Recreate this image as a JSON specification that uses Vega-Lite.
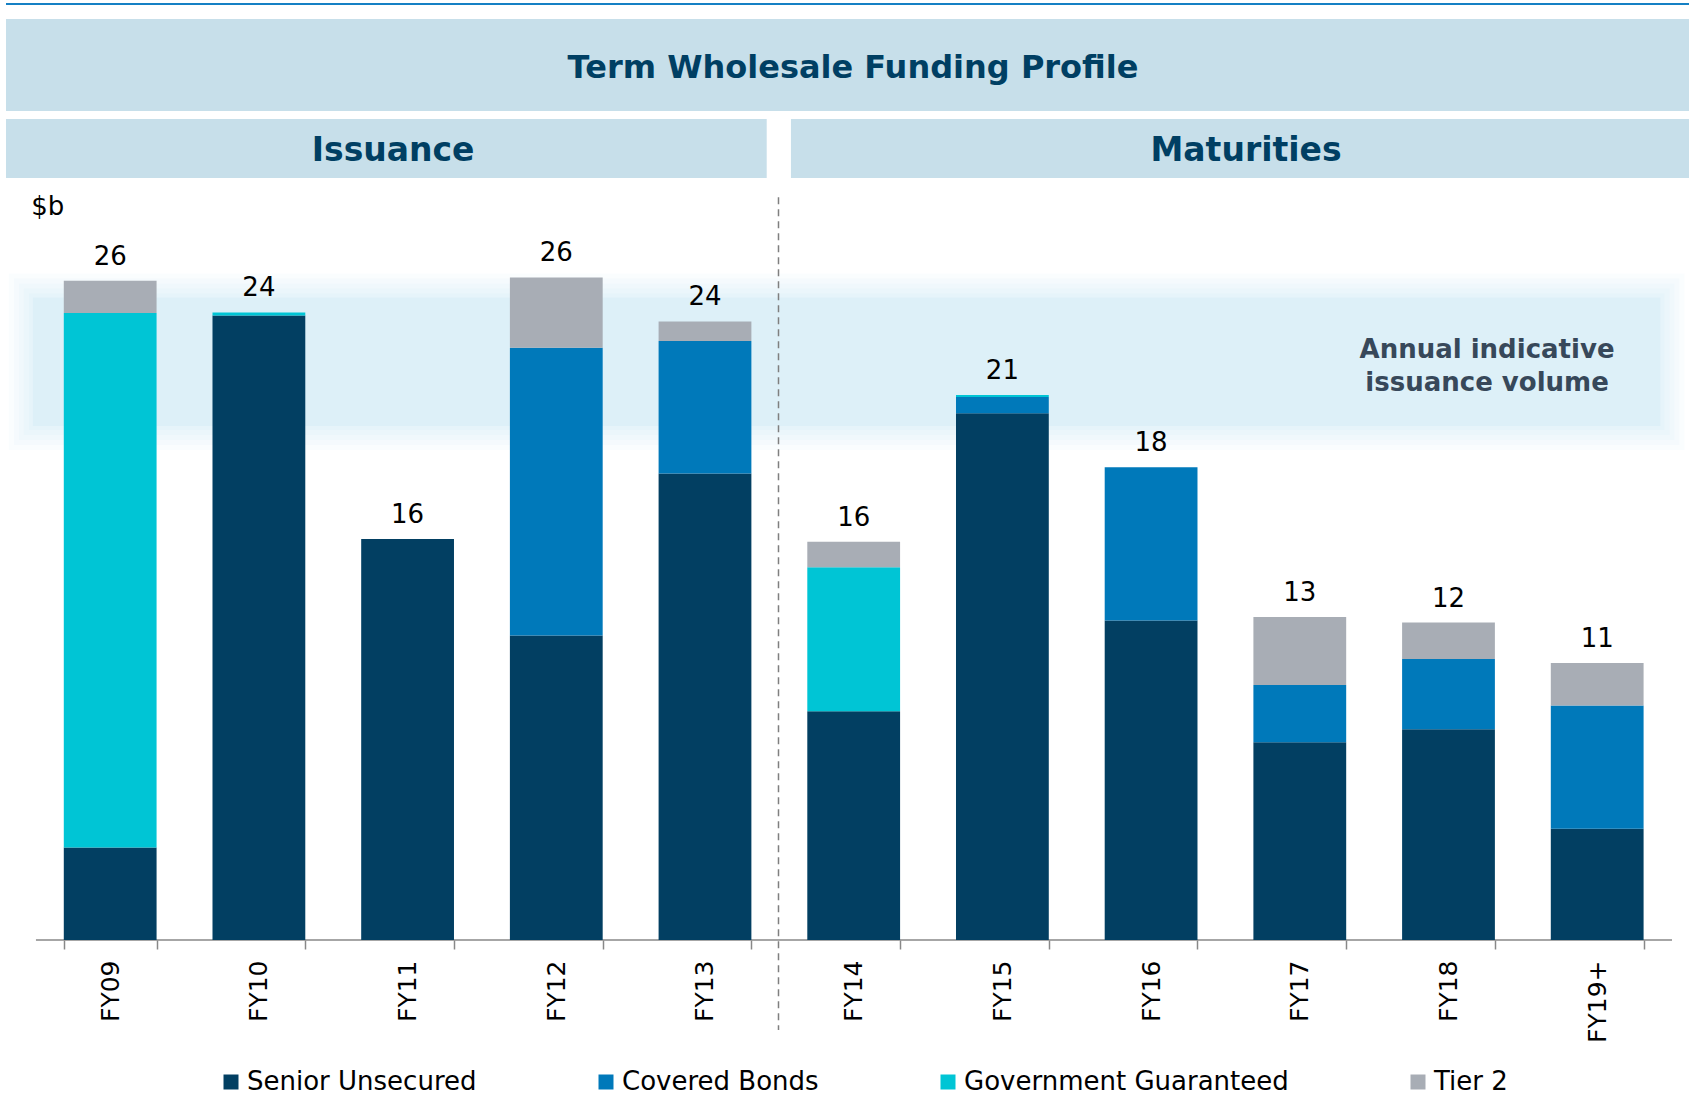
{
  "$schema": "https://vega.github.io/schema/vega-lite/v6.json",
  "width": 1683,
  "height": 937,
  "autosize": {"type": "none"},
  "padding": {"left": 6, "top": 3, "right": 3, "bottom": 157},
  "background": "#ffffff",
  "config": {"font": "DejaVu Sans", "view": {"stroke": null}},
  "datasets": {
    "segments": [
      {"year": "FY09", "series": "Senior Unsecured", "value": 3.6},
      {"year": "FY09", "series": "Government Guaranteed", "value": 20.8},
      {"year": "FY09", "series": "Tier 2", "value": 1.25},
      {"year": "FY10", "series": "Senior Unsecured", "value": 24.3},
      {"year": "FY10", "series": "Government Guaranteed", "value": 0.12},
      {"year": "FY11", "series": "Senior Unsecured", "value": 15.6},
      {"year": "FY12", "series": "Senior Unsecured", "value": 11.85},
      {"year": "FY12", "series": "Covered Bonds", "value": 11.2},
      {"year": "FY12", "series": "Tier 2", "value": 2.73},
      {"year": "FY13", "series": "Senior Unsecured", "value": 18.15},
      {"year": "FY13", "series": "Covered Bonds", "value": 5.16},
      {"year": "FY13", "series": "Tier 2", "value": 0.76},
      {"year": "FY14", "series": "Senior Unsecured", "value": 8.9},
      {"year": "FY14", "series": "Government Guaranteed", "value": 5.6},
      {"year": "FY14", "series": "Tier 2", "value": 1.0},
      {"year": "FY15", "series": "Senior Unsecured", "value": 20.5},
      {"year": "FY15", "series": "Covered Bonds", "value": 0.63},
      {"year": "FY15", "series": "Government Guaranteed", "value": 0.08},
      {"year": "FY16", "series": "Senior Unsecured", "value": 12.43},
      {"year": "FY16", "series": "Covered Bonds", "value": 5.97},
      {"year": "FY17", "series": "Senior Unsecured", "value": 7.69},
      {"year": "FY17", "series": "Covered Bonds", "value": 2.23},
      {"year": "FY17", "series": "Tier 2", "value": 2.65},
      {"year": "FY18", "series": "Senior Unsecured", "value": 8.2},
      {"year": "FY18", "series": "Covered Bonds", "value": 2.73},
      {"year": "FY18", "series": "Tier 2", "value": 1.42},
      {"year": "FY19+", "series": "Senior Unsecured", "value": 4.33},
      {"year": "FY19+", "series": "Covered Bonds", "value": 4.79},
      {"year": "FY19+", "series": "Tier 2", "value": 1.66}
    ],
    "series": [
      {"series": "Senior Unsecured", "rank": 1},
      {"series": "Covered Bonds", "rank": 2},
      {"series": "Government Guaranteed", "rank": 3},
      {"series": "Tier 2", "rank": 4}
    ],
    "band": [{"low": 20, "high": 25, "note": "Annual indicative issuance volume"}],
    "one": [{}]
  },
  "resolve": {"scale": {"x": "independent"}},
  "layer": [
    {
      "layer": [
        {
          "data": {"name": "one"},
          "mark": {"type": "rule", "stroke": "#1580c4", "strokeWidth": 2},
          "encoding": {
            "x": {"datum": 0, "type": "quantitative", "scale": {"domain": [0, 100], "nice": false, "zero": false}, "axis": null},
            "x2": {"datum": 100},
            "y": {"datum": 36.42, "type": "quantitative", "scale": {"domain": [0, 36.46], "nice": false}, "axis": null}
          }
        },
        {
          "data": {"name": "one"},
          "mark": {"type": "rect", "color": "#c7dfea"},
          "encoding": {
            "x": {"datum": 0, "type": "quantitative", "axis": null},
            "x2": {"datum": 100},
            "y": {"datum": 32.26, "type": "quantitative", "axis": null},
            "y2": {"datum": 35.84}
          }
        },
        {
          "data": {"name": "one"},
          "mark": {"type": "rect", "color": "#c7dfea"},
          "encoding": {
            "x": {"datum": 0, "type": "quantitative", "axis": null},
            "x2": {"datum": 45.2},
            "y": {"datum": 29.65, "type": "quantitative", "axis": null},
            "y2": {"datum": 31.95}
          }
        },
        {
          "data": {"name": "one"},
          "mark": {"type": "rect", "color": "#c7dfea"},
          "encoding": {
            "x": {"datum": 46.64, "type": "quantitative", "axis": null},
            "x2": {"datum": 100},
            "y": {"datum": 29.65, "type": "quantitative", "axis": null},
            "y2": {"datum": 31.95}
          }
        },
        {
          "data": {"name": "one"},
          "mark": {"type": "text", "text": "Term Wholesale Funding Profile", "fontSize": 32, "fontWeight": "bold", "color": "#003f63", "align": "center", "baseline": "middle"},
          "encoding": {
            "x": {"datum": 50.33, "type": "quantitative", "axis": null},
            "y": {"datum": 33.92, "type": "quantitative", "axis": null}
          }
        },
        {
          "data": {"name": "one"},
          "mark": {"type": "text", "text": "Issuance", "fontSize": 33, "fontWeight": "bold", "color": "#003f63", "align": "center", "baseline": "middle"},
          "encoding": {
            "x": {"datum": 23.0, "type": "quantitative", "axis": null},
            "y": {"datum": 30.7, "type": "quantitative", "axis": null}
          }
        },
        {
          "data": {"name": "one"},
          "mark": {"type": "text", "text": "Maturities", "fontSize": 33, "fontWeight": "bold", "color": "#003f63", "align": "center", "baseline": "middle"},
          "encoding": {
            "x": {"datum": 73.68, "type": "quantitative", "axis": null},
            "y": {"datum": 30.7, "type": "quantitative", "axis": null}
          }
        },
        {
          "data": {"name": "band"},
          "mark": {"type": "rect", "color": "#ddf0f8", "opacity": 0.16, "xOffset": -24, "x2Offset": 24, "yOffset": 24, "y2Offset": -24},
          "encoding": {
            "x": {"datum": 1.6, "type": "quantitative", "axis": null},
            "x2": {"datum": 98.3},
            "y": {"field": "low", "type": "quantitative", "axis": null},
            "y2": {"field": "high"}
          }
        },
        {
          "data": {"name": "band"},
          "mark": {"type": "rect", "color": "#ddf0f8", "opacity": 0.18, "xOffset": -19, "x2Offset": 19, "yOffset": 19, "y2Offset": -19},
          "encoding": {
            "x": {"datum": 1.6, "type": "quantitative", "axis": null},
            "x2": {"datum": 98.3},
            "y": {"field": "low", "type": "quantitative", "axis": null},
            "y2": {"field": "high"}
          }
        },
        {
          "data": {"name": "band"},
          "mark": {"type": "rect", "color": "#ddf0f8", "opacity": 0.2, "xOffset": -14, "x2Offset": 14, "yOffset": 14, "y2Offset": -14},
          "encoding": {
            "x": {"datum": 1.6, "type": "quantitative", "axis": null},
            "x2": {"datum": 98.3},
            "y": {"field": "low", "type": "quantitative", "axis": null},
            "y2": {"field": "high"}
          }
        },
        {
          "data": {"name": "band"},
          "mark": {"type": "rect", "color": "#ddf0f8", "opacity": 0.25, "xOffset": -9, "x2Offset": 9, "yOffset": 9, "y2Offset": -9},
          "encoding": {
            "x": {"datum": 1.6, "type": "quantitative", "axis": null},
            "x2": {"datum": 98.3},
            "y": {"field": "low", "type": "quantitative", "axis": null},
            "y2": {"field": "high"}
          }
        },
        {
          "data": {"name": "band"},
          "mark": {"type": "rect", "color": "#ddf0f8", "opacity": 0.35, "xOffset": -4, "x2Offset": 4, "yOffset": 4, "y2Offset": -4},
          "encoding": {
            "x": {"datum": 1.6, "type": "quantitative", "axis": null},
            "x2": {"datum": 98.3},
            "y": {"field": "low", "type": "quantitative", "axis": null},
            "y2": {"field": "high"}
          }
        },
        {
          "data": {"name": "band"},
          "mark": {"type": "rect", "color": "#ddf0f8", "opacity": 1},
          "encoding": {
            "x": {"datum": 1.6, "type": "quantitative", "axis": null},
            "x2": {"datum": 98.3},
            "y": {"field": "low", "type": "quantitative", "axis": null},
            "y2": {"field": "high"}
          }
        },
        {
          "data": {"name": "one"},
          "mark": {"type": "text", "text": ["Annual indicative", "issuance volume"], "lineHeight": 33, "fontSize": 26, "fontWeight": "bold", "color": "#37485a", "align": "center", "baseline": "middle"},
          "encoding": {
            "x": {"datum": 88.0, "type": "quantitative", "axis": null},
            "y": {"datum": 22.95, "type": "quantitative", "axis": null}
          }
        },
        {
          "data": {"name": "one"},
          "mark": {"type": "rule", "stroke": "#888888", "strokeWidth": 1.5},
          "encoding": {
            "x": {"datum": 1.78, "type": "quantitative", "axis": null},
            "x2": {"datum": 98.99},
            "y": {"datum": 0, "type": "quantitative", "axis": null}
          }
        },
        {
          "data": {"name": "one"},
          "mark": {"type": "rule", "stroke": "#7f7f7f", "strokeWidth": 1.5, "strokeDash": [7, 5]},
          "encoding": {
            "x": {"datum": 45.9, "type": "quantitative", "axis": null},
            "y": {"datum": 28.9, "type": "quantitative", "axis": null},
            "y2": {"datum": -3.5}
          }
        },
        {
          "data": {"name": "one"},
          "mark": {"type": "text", "text": "$b", "fontSize": 26, "color": "#000000", "align": "left", "baseline": "middle"},
          "encoding": {
            "x": {"datum": 1.5, "type": "quantitative", "axis": null},
            "y": {"datum": 28.52, "type": "quantitative", "axis": null}
          }
        }
      ]
    },
    {
      "layer": [
        {
          "data": {"name": "segments"},
          "transform": [
            {"lookup": "series", "from": {"data": {"name": "series"}, "key": "series", "fields": ["rank"]}}
          ],
          "mark": {"type": "bar"},
          "encoding": {
            "x": {
              "field": "year", "type": "nominal",
              "sort": ["FY09", "FY10", "FY11", "FY12", "FY13", "FY14", "FY15", "FY16", "FY17", "FY18", "FY19+"],
              "scale": {"paddingInner": 0.376, "paddingOuter": 0.347, "align": 0.56},
              "axis": {
                "title": null, "labelAngle": -90, "labelAlign": "right", "labelBaseline": "middle",
                "labelFontSize": 25, "labelColor": "#000000", "labelPadding": 11,
                "tickBand": "extent", "tickSize": 9, "tickColor": "#888888", "tickWidth": 1.5,
                "domain": false, "grid": false
              }
            },
            "y": {"field": "value", "type": "quantitative", "stack": "zero", "scale": {"domain": [0, 36.46], "nice": false}, "axis": null},
            "color": {
              "field": "series", "type": "nominal",
              "scale": {
                "domain": ["Senior Unsecured", "Covered Bonds", "Government Guaranteed", "Tier 2"],
                "range": ["#023f62", "#0079ba", "#00c5d5", "#a8adb5"]
              },
              "legend": {
                "title": null, "orient": "none", "direction": "horizontal",
                "legendX": 212, "legendY": 1066,
                "symbolType": "square", "symbolSize": 225, "symbolStrokeWidth": 0,
                "labelFontSize": 26, "labelColor": "#000000", "labelOffset": 3,
                "columnPadding": 116, "labelLimit": 500
              }
            },
            "order": {"field": "rank", "type": "quantitative"}
          }
        },
        {
          "data": {"name": "segments"},
          "transform": [
            {"aggregate": [{"op": "sum", "field": "value", "as": "total"}], "groupby": ["year"]}
          ],
          "mark": {"type": "text", "fontSize": 26, "color": "#000000", "align": "center", "baseline": "alphabetic", "dy": -16},
          "encoding": {
            "x": {"field": "year", "type": "nominal", "sort": ["FY09", "FY10", "FY11", "FY12", "FY13", "FY14", "FY15", "FY16", "FY17", "FY18", "FY19+"]},
            "y": {"field": "total", "type": "quantitative", "axis": null},
            "text": {"field": "total", "type": "quantitative", "format": ".0f"}
          }
        }
      ]
    }
  ]
}
